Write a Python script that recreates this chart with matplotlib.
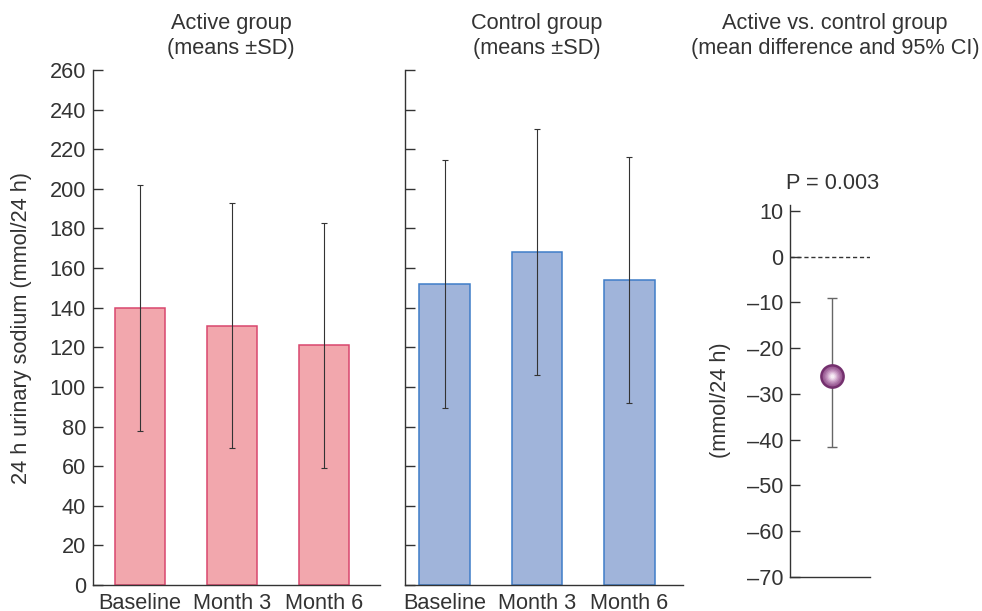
import numpy as np
import matplotlib
matplotlib.use("Agg")
import matplotlib.pyplot as plt

plt.rcParams['font.family'] = ['Liberation Sans', 'DejaVu Sans']
plt.rcParams['font.size'] = 15.7
plt.rcParams['text.color'] = '#333333'
plt.rcParams['axes.edgecolor'] = '#333333'
plt.rcParams['xtick.color'] = '#333333'
plt.rcParams['ytick.color'] = '#333333'
plt.rcParams['axes.labelcolor'] = '#333333'

# data
timepoints = ['Baseline', 'Month 3', 'Month 6']
active_mean = [140, 131, 121]
active_sd = [62, 62, 62]
control_mean = [152, 168, 154]
control_sd = [62.5, 62, 62]
diff_mean = -26
diff_ci_low = -41.5
diff_ci_high = -9
p_label = 'P = 0.003'

W, H = 982, 611
fig = plt.figure(figsize=(W / 100, H / 100), dpi=100)


def px_axes(x0, y_top, x1, y_bot):
    return fig.add_axes([x0 / W, 1 - y_bot / H, (x1 - x0) / W, (y_bot - y_top) / H])


def style_axes(ax):
    for s in ['top', 'right']:
        ax.spines[s].set_visible(False)
    for s in ['left', 'bottom']:
        ax.spines[s].set_linewidth(1.0)
    ax.tick_params(axis='y', direction='in', length=7, width=1.0, pad=5)
    ax.tick_params(axis='x', length=0, pad=6)


x = np.arange(len(timepoints))

# active group
ax1 = px_axes(93, 70, 380, 585)
ax1.bar(x, active_mean, width=0.54, color='#f2a7ad', edgecolor='#d9476e', linewidth=1.1, zorder=2)
ax1.errorbar(x, active_mean, yerr=active_sd, fmt='none', ecolor='#333333',
             elinewidth=0.8, capsize=2, capthick=0.8, zorder=3)
ax1.set_xlim(-0.51, 2.61)
ax1.set_ylim(0, 260)
ax1.set_yticks(range(0, 261, 20))
ax1.set_xticks(x)
ax1.set_xticklabels(timepoints)
ax1.set_ylabel('24 h urinary sodium (mmol/24 h)')
ax1.yaxis.set_label_coords(-0.212, 0.5)
style_axes(ax1)

# control group
ax2 = px_axes(405, 70, 683, 585)
ax2.bar(x, control_mean, width=0.55, color='#a0b4da', edgecolor='#3f7dc8', linewidth=1.1, zorder=2)
ax2.errorbar(x, control_mean, yerr=control_sd, fmt='none', ecolor='#333333',
             elinewidth=0.8, capsize=2, capthick=0.8, zorder=3)
ax2.set_xlim(-0.43, 2.58)
ax2.set_ylim(0, 260)
ax2.set_yticks(range(0, 261, 20))
ax2.set_yticklabels([])
ax2.set_xticks(x)
ax2.set_xticklabels(timepoints)
style_axes(ax2)

# mean difference
ax3 = px_axes(790, 205, 870, 577)
ax3.axhline(0, color='#333333', linestyle=(0, (3, 2)), linewidth=1.0)
ax3.errorbar([0.525], [diff_mean],
             yerr=[[diff_mean - diff_ci_low], [diff_ci_high - diff_mean]],
             fmt='none', ecolor='#666666', elinewidth=1.0, capsize=3.5, capthick=1.0, zorder=3)
# shaded sphere marker
ax3.plot([0.525], [diff_mean], 'o', ms=16, mfc='#9c5c95', mec='#74306e', mew=1.8, zorder=4)
shades = ['#a56ba0', '#b682b1', '#c89ac3', '#d9b5d5', '#e9d2e6', '#f6ecf4']
for i, c in enumerate(shades):
    ax3.plot([0.525], [diff_mean], 'o', ms=12.5 - i * 1.9, mfc=c, mec='none', zorder=5 + i)
ax3.set_xlim(0, 1)
ax3.set_ylim(-70, 11.3)
ax3.set_yticks(range(-70, 11, 10))
ax3.set_yticklabels([str(v).replace('-', '\u2013') for v in range(-70, 11, 10)])
ax3.set_xticks([])
ax3.set_ylabel('(mmol/24 h)')
ax3.yaxis.set_label_coords(-0.74, 0.476)
style_axes(ax3)
ax3.text(0.53, 15.9, p_label, ha='center', va='center', clip_on=False)

# panel titles
fig.text(231 / W, 1 - 36 / H, 'Active group\n(means \u00b1SD)', ha='center', va='center', linespacing=1.2)
fig.text(537 / W, 1 - 36 / H, 'Control group\n(means \u00b1SD)', ha='center', va='center', linespacing=1.2)
fig.text(835 / W, 1 - 36 / H, 'Active vs. control group\n(mean difference and 95% CI)',
         ha='center', va='center', linespacing=1.2)

fig.savefig('out.png', dpi=100)
